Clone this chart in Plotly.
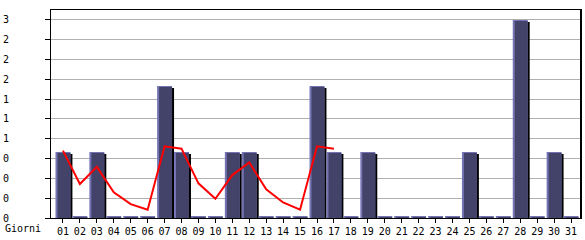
import numpy as np
import plotly.graph_objects as go

days = [f"{d:02d}" for d in range(1, 32)]
visits = [1, 0, 1, 0, 0, 0, 2, 1, 0, 0, 1, 1, 0, 0, 0, 2, 1, 0, 1, 0,
          0, 0, 0, 0, 1, 0, 0, 3, 0, 1, 0]
trend = [1.02, 0.515, 0.775, 0.39, 0.21, 0.125, 1.085, 1.05, 0.525, 0.29,
         0.65, 0.84, 0.435, 0.235, 0.125, 1.085, 1.05]
y_ticks = [0, 0.3, 0.6, 0.9, 1.2, 1.5, 1.8, 2.1, 2.4, 2.7, 3.0]
y_ticklabels = ["0", "0", "0", "0", "1", "1", "1", "2", "2", "2", "3"]
x_label = "Giorni"

W, H = 585, 240
L, R, T, B = 50, 3, 10, 20
plot_w = W - L - R
plot_h = H - T - B
x0, x1 = 1 - 12 / 17, 31 + 10 / 17
ux = (x1 - x0) / plot_w          # data units per px horizontally
y_top = 3.15
uy = y_top / plot_h              # data units per px vertically

xs = np.arange(1, 32)
v = np.array(visits, dtype=float)
stub = 2 * uy
outer = np.maximum(v, stub)
inner = np.maximum(v - uy, stub / 2)
shadow = np.where(v > 0, v - 2 * uy, 0)

fig = go.Figure()
fig.add_bar(x=xs, y=shadow, width=15 * ux, offset=-5.5 * ux,
            marker=dict(color="#000000", line=dict(width=0)), hoverinfo="skip")
fig.add_bar(x=xs, y=outer, width=15 * ux, offset=-7.5 * ux,
            marker=dict(color="#7474b4", line=dict(width=0)), hoverinfo="skip")
fig.add_bar(x=xs, y=inner, width=13 * ux, offset=-5.5 * ux,
            marker=dict(color="#434369", line=dict(width=0)), hoverinfo="skip")
fig.add_scatter(x=xs[:len(trend)], y=trend, mode="lines",
                line=dict(color="#ff0000", width=2))

font = dict(family="DejaVu Sans Mono", size=10, color="#000000")
fig.update_layout(
    width=W, height=H, barmode="overlay", showlegend=False,
    margin=dict(l=L, r=R, t=T, b=B),
    paper_bgcolor="white", plot_bgcolor="white", font=font,
    xaxis=dict(range=[x0, x1], tickvals=list(xs), ticktext=days,
               ticks="outside", ticklen=4, tickcolor="#000", tickwidth=1,
               showgrid=False, zeroline=False, showline=True,
               linecolor="#000", linewidth=1, mirror=True, tickfont=font),
    yaxis=dict(range=[0, y_top], tickvals=y_ticks, ticktext=y_ticklabels,
               ticks="outside", ticklen=5, tickcolor="#000", tickwidth=1,
               showgrid=True, gridcolor="#b0b0b0", gridwidth=1,
               zeroline=False, showline=True, linecolor="#000",
               linewidth=1, mirror=True, tickfont=font,
               ticklabelstandoff=34),
)
fig.add_shape(type="line", xref="paper", yref="paper", x0=1, x1=1, y0=0, y1=1,
              line=dict(color="#000", width=2))
fig.add_annotation(text=x_label, xref="paper", yref="paper",
                   x=-(L - 2) / plot_w, y=-11 / plot_h, xanchor="left",
                   yanchor="middle", showarrow=False, font=font)
fig.write_html("out.html")
